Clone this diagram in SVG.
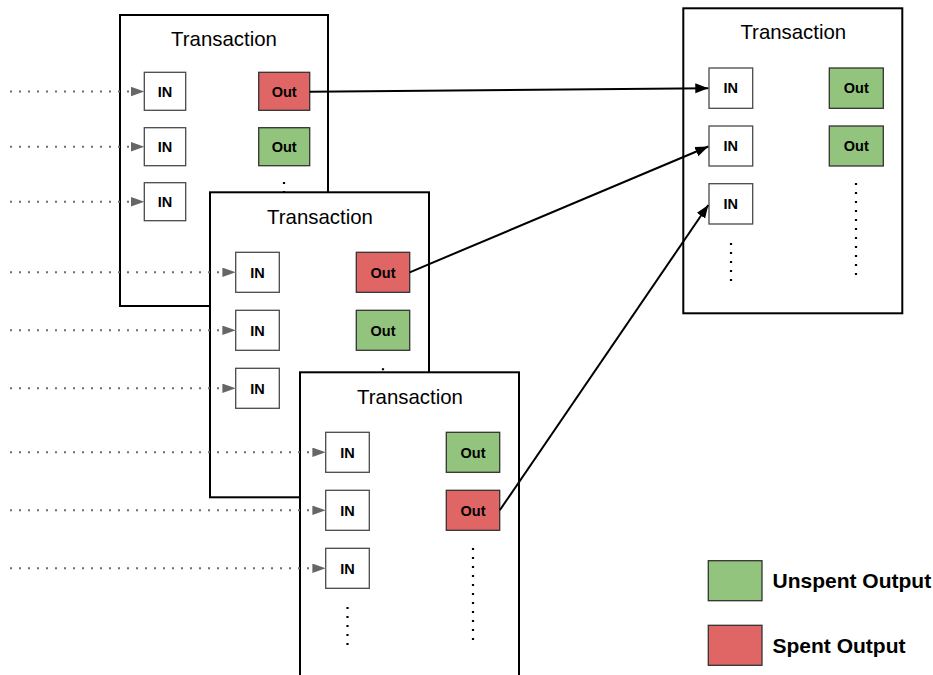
<svg xmlns="http://www.w3.org/2000/svg" width="933" height="675" viewBox="0 0 933 675">
<defs>
<marker id="arr" markerUnits="userSpaceOnUse" markerWidth="14" markerHeight="11" refX="13" refY="5" orient="auto"><path d="M0,0 L13,5 L0,10 z" fill="#000"/></marker>
<marker id="garr" markerUnits="userSpaceOnUse" markerWidth="14" markerHeight="10" refX="13.3" refY="4.7" orient="auto"><path d="M0,0 L13.3,4.7 L0,9.4 z" fill="#666"/></marker>
<style>
.tx{fill:#fff;stroke:#000;stroke-width:2}
.title{font-family:"Liberation Sans",Arial,sans-serif;font-size:20.4px;fill:#000;text-anchor:middle}
.in{fill:#fff;stroke:#4a4a4a;stroke-width:1.3}
.un{fill:#93c47d;stroke:#333;stroke-width:1.3}
.sp{fill:#e06666;stroke:#333;stroke-width:1.3}
.lbl{font-family:"Liberation Sans",Arial,sans-serif;font-weight:bold;font-size:14.5px;fill:#000;text-anchor:middle}
.vdots{stroke:#000;stroke-width:2.2;stroke-dasharray:2 7;fill:none}
.link{stroke:#000;stroke-width:2;fill:none;marker-end:url(#arr)}
.feed{stroke:#6d6d6d;stroke-width:2;stroke-dasharray:2 7;fill:none;marker-end:url(#garr)}
.leg{font-family:"Liberation Sans",Arial,sans-serif;font-weight:bold;font-size:21px;fill:#000}
</style>
</defs>

<g id="tx1">
<rect class="tx" x="120" y="15" width="208" height="291"/>
<text class="title" x="224" y="46">Transaction</text>
<rect class="in" x="144.3" y="72.3" width="41.4" height="38"/><text class="lbl" x="165" y="96.5">IN</text>
<rect class="in" x="144.3" y="127.7" width="41.4" height="38"/><text class="lbl" x="165" y="151.9">IN</text>
<rect class="in" x="144.3" y="182.7" width="41.4" height="38"/><text class="lbl" x="165" y="206.9">IN</text>
<rect class="sp" x="258.7" y="72.3" width="51" height="38"/><text class="lbl" x="284.2" y="96.5">Out</text>
<rect class="un" x="258.7" y="127.7" width="51" height="38"/><text class="lbl" x="284.2" y="151.9">Out</text>
<line class="vdots" x1="284" y1="182" x2="284" y2="274"/>
</g>

<g id="tx2">
<rect class="tx" x="210" y="192.3" width="219" height="305"/>
<text class="title" x="320" y="224">Transaction</text>
<rect class="in" x="235.7" y="252.3" width="43.6" height="40"/><text class="lbl" x="257.5" y="277.6">IN</text>
<rect class="in" x="235.7" y="310.3" width="43.6" height="40"/><text class="lbl" x="257.5" y="335.6">IN</text>
<rect class="in" x="235.7" y="368.3" width="43.6" height="40"/><text class="lbl" x="257.5" y="393.6">IN</text>
<rect class="sp" x="356.3" y="252.3" width="53.4" height="40"/><text class="lbl" x="383" y="277.6">Out</text>
<rect class="un" x="356.3" y="310.3" width="53.4" height="40"/><text class="lbl" x="383" y="335.6">Out</text>
<line class="vdots" x1="383" y1="368.3" x2="383" y2="460"/>
</g>

<g id="tx3">
<rect class="tx" x="300" y="372.3" width="219" height="320"/>
<text class="title" x="410" y="404">Transaction</text>
<rect class="in" x="325.7" y="432.3" width="43.6" height="40"/><text class="lbl" x="347.5" y="457.6">IN</text>
<rect class="in" x="325.7" y="490.3" width="43.6" height="40"/><text class="lbl" x="347.5" y="515.6">IN</text>
<rect class="in" x="325.7" y="548.3" width="43.6" height="40"/><text class="lbl" x="347.5" y="573.6">IN</text>
<rect class="un" x="446.3" y="432.3" width="53.4" height="40"/><text class="lbl" x="473" y="457.6">Out</text>
<rect class="sp" x="446.3" y="490.3" width="53.4" height="40"/><text class="lbl" x="473" y="515.6">Out</text>
<line class="vdots" x1="347.5" y1="607" x2="347.5" y2="645"/>
<line class="vdots" x1="473" y1="548" x2="473" y2="640"/>
</g>

<g id="tx4">
<rect class="tx" x="683.3" y="8.3" width="219" height="305"/>
<text class="title" x="793.3" y="39">Transaction</text>
<rect class="in" x="709" y="68" width="43.7" height="40.3"/><text class="lbl" x="730.8" y="93.4">IN</text>
<rect class="in" x="709" y="126" width="43.7" height="40"/><text class="lbl" x="730.8" y="151.2">IN</text>
<rect class="in" x="709" y="183.7" width="43.7" height="40.3"/><text class="lbl" x="730.8" y="209.1">IN</text>
<rect class="un" x="829.3" y="68" width="54" height="40.3"/><text class="lbl" x="856.3" y="93.4">Out</text>
<rect class="un" x="829.3" y="126" width="54" height="40"/><text class="lbl" x="856.3" y="151.2">Out</text>
<line class="vdots" x1="731" y1="243" x2="731" y2="281"/>
<line class="vdots" x1="856" y1="183" x2="856" y2="275"/>
</g>

<g id="connectors">
<line class="feed" x1="10" y1="91.5" x2="144.3" y2="91.5"/>
<line class="feed" x1="10" y1="146.7" x2="144.3" y2="146.7"/>
<line class="feed" x1="10" y1="201.7" x2="144.3" y2="201.7"/>
<line class="feed" x1="10" y1="272.3" x2="235.7" y2="272.3"/>
<line class="feed" x1="10" y1="330.3" x2="235.7" y2="330.3"/>
<line class="feed" x1="10" y1="388.3" x2="235.7" y2="388.3"/>
<line class="feed" x1="10" y1="452.3" x2="325.7" y2="452.3"/>
<line class="feed" x1="10" y1="510.3" x2="325.7" y2="510.3"/>
<line class="feed" x1="10" y1="568.3" x2="325.7" y2="568.3"/>
<line class="link" x1="309.7" y1="91.7" x2="708.3" y2="88.2"/>
<line class="link" x1="409.7" y1="272.3" x2="708.3" y2="146.5"/>
<line class="link" x1="499.7" y1="510.3" x2="708.3" y2="205"/>
</g>

<g id="legend">
<rect class="un" x="708.3" y="560.7" width="53.7" height="40"/>
<text class="leg" x="772.5" y="588">Unspent Output</text>
<rect class="sp" x="708.3" y="625.3" width="53.7" height="40"/>
<text class="leg" x="772.5" y="653">Spent Output</text>
</g>
</svg>
